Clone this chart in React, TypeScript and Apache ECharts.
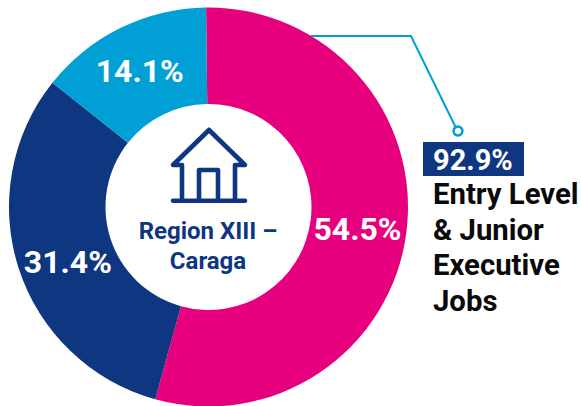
import React, { useEffect, useRef } from "react";
import * as echarts from "echarts";

const categories = ["Pink segment", "Navy segment", "Blue segment"];
const shares = [54.5, 31.4, 14.1];
const colours = ["#E6007E", "#0F3680", "#009FD6"];
const calloutValue = "92.9%";
const calloutLines = ["Entry Level", "& Junior", "Executive", "Jobs"];
const centerLines = ["Region XIII –", "Caraga"];
const font = "Roboto";
const house = "M38 1 L2 36 L11 36 L11 71.7 M38 1 L74 36 L64 36 L64 71.7 M2 71.7 L74 71.7 M28 71.7 L28 41 L47 41 L47 71.7";
const labelShifts = [[-4, 2], [6, 7], [-1, 3]];

echarts.graphic.registerShape("house", echarts.graphic.extendPath(house, {}) as any);

export default function App() {
  const ref = useRef<HTMLDivElement>(null);
  useEffect(() => {
    document.body.style.margin = "0";
    const chart = echarts.init(ref.current!, undefined, { renderer: "svg" });
    const bodyText = calloutLines.map((t, i) => ({
      type: "text", x: 433, y: 194 + i * 35.5,
      style: { text: t, fontFamily: font, fontWeight: 700, fontSize: 29.3, fill: "#0A0A0A", textVerticalAlign: "middle" },
    }));
    chart.setOption({
      animation: false,
      backgroundColor: "#fff",
      series: [{
        type: "pie",
        center: [208.5, 207],
        radius: [103, 199.5],
        startAngle: 90.7,
        silent: true,
        label: { show: true, position: "inside", formatter: "{c}%", fontFamily: font, fontWeight: 700, fontSize: 32, color: "#fff" },
        labelLayout: (p: any) => ({ dx: labelShifts[p.dataIndex][0], dy: labelShifts[p.dataIndex][1] }),
        labelLine: { show: false },
        data: categories.map((name, i) => ({ name, value: shares[i], itemStyle: { color: colours[i] } })),
      }],
      graphic: [
        { type: "polyline", shape: { points: [[311, 36], [411, 36], [456, 128]] }, style: { stroke: "#009FD6", lineWidth: 2, fill: "none" } },
        { type: "circle", shape: { cx: 458, cy: 131, r: 4.5 }, style: { stroke: "#009FD6", lineWidth: 2.5, fill: "#fff" } },
        { type: "rect", shape: { x: 423, y: 142, width: 101, height: 34 }, style: { fill: "#0F3680" } },
        { type: "text", x: 433, y: 160, style: { text: calloutValue, fontFamily: font, fontWeight: 700, fontSize: 29, fill: "#fff", textVerticalAlign: "middle" } },
        ...bodyText,
        { type: "house", x: 171, y: 129, style: { stroke: "#0F3680", lineWidth: 4.6, fill: "none", lineCap: "round", lineJoin: "round" } },
        ...centerLines.map((t, i) => ({
          type: "text", x: 208, y: 231 + i * 30,
          style: { text: t, fontFamily: font, fontWeight: 700, fontSize: 24, fill: "#0F3680", textAlign: "center", textVerticalAlign: "middle" },
        })),
      ],
    });
    return () => chart.dispose();
  }, []);
  return <div ref={ref} style={{ width: 581, height: 406 }} />;
}
